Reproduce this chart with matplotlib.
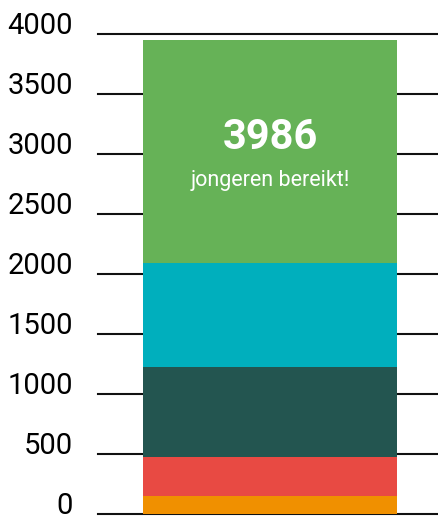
import matplotlib
matplotlib.use("Agg")
import matplotlib.pyplot as plt

# segments bottom to top
segments = [153, 325, 750, 866, 1858]
colors = ['#F09000', '#E84A43', '#235550', '#00AFBD', '#66B257']
total_label = "3986"
sub_label = "jongeren bereikt!"
yticks = [0, 500, 1000, 1500, 2000, 2500, 3000, 3500, 4000]

plt.rcParams['font.family'] = ['Roboto', 'DejaVu Sans']

fig = plt.figure(figsize=(4.39, 5.16), dpi=100)
ax = fig.add_axes([98 / 439, 2 / 516, 341 / 439, 480 / 516])

bottom = 0
for val, col in zip(segments, colors):
    ax.bar(0, val, width=0.745, bottom=bottom, color=col, zorder=2)
    bottom += val

ax.set_xlim(-0.5045, 0.4955)
ax.set_ylim(0, 4000)
ax.set_yticks(yticks)
ax.set_yticklabels([str(t) for t in yticks], fontsize=21)
for lab in ax.get_yticklabels():
    lab.set_verticalalignment('baseline')
ax.tick_params(axis='y', length=0, pad=18)
ax.set_xticks([])
for s in ax.spines.values():
    s.set_visible(False)
ax.grid(axis='y', color='#111111', linewidth=1.5, zorder=1)
ax.set_axisbelow(True)
for gl in ax.get_ygridlines():
    gl.set_clip_on(False)

ax.text(0, 3140, total_label, ha='center', va='center', color='white',
        fontsize=30, fontweight='bold')
ax.text(0, 2780, sub_label, ha='center', va='center', color='white',
        fontsize=15.5)

fig.savefig('out.png', dpi=100)
